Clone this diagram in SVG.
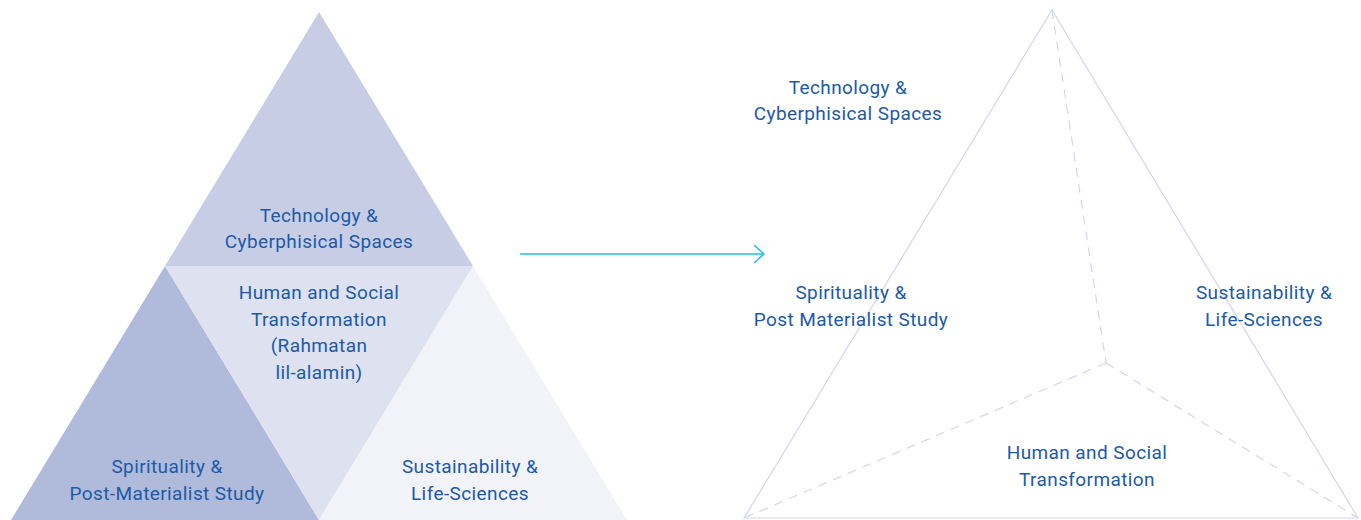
<svg xmlns="http://www.w3.org/2000/svg" width="1361" height="520" viewBox="0 0 1361 520">
<defs>
<style>
text{font-family:Roboto,"Liberation Sans",sans-serif;font-size:19px;letter-spacing:0.4px;fill:#1c5aa6;text-anchor:middle}
.edge{fill:none;stroke:#d3d6ec;stroke-width:1.2}
.dash{fill:none;stroke:#d3d6ec;stroke-width:1.2;stroke-dasharray:9 7}
</style>
<marker id="chev" viewBox="0 0 12 20" refX="11" refY="10" markerWidth="12" markerHeight="20" markerUnits="userSpaceOnUse" orient="auto">
<path d="M1 1 L11 10 L1 19" fill="none" stroke="#1ebff0" stroke-width="1.5"/>
</marker>
</defs>
<rect width="1361" height="520" fill="#ffffff"/>
<g id="left-pyramid">
<g id="tech"><polygon points="319,12 473,266 165,266" fill="#c8cde6"/>
<text x="319" y="222">Technology &amp;</text><text x="319" y="248">Cyberphisical Spaces</text></g>
<g id="spirit"><polygon points="165,266 319,520 11,520" fill="#b0badb"/>
<text x="167" y="473">Spirituality &amp;</text><text x="167" y="500">Post-Materialist Study</text></g>
<g id="human"><polygon points="165,266 473,266 319,520" fill="#dde1f0"/>
<text x="319" y="299">Human and Social</text><text x="319" y="326">Transformation</text><text x="319" y="352">(Rahmatan</text><text x="319" y="379">lil-alamin)</text></g>
<g id="sustain"><polygon points="473,266 627,520 319,520" fill="#f2f3f9"/>
<text x="470" y="473">Sustainability &amp;</text><text x="470" y="500">Life-Sciences</text></g>
</g>
<g id="connectors">
<line x1="520" y1="254" x2="764" y2="254" stroke="#1ebff0" stroke-width="1.5" marker-end="url(#chev)"/>
</g>
<g id="right-tetra">
<polygon class="edge" points="1052,10 1358,518 744,518"/>
<polyline class="dash" points="1052,10 1106,363"/>
<polyline class="dash" points="1106,363 744,518"/>
<polyline class="dash" points="1106,363 1358,518"/>
<g id="r-tech"><text x="848" y="94">Technology &amp;</text><text x="848" y="120">Cyberphisical Spaces</text></g>
<g id="r-spirit"><text x="851" y="299">Spirituality &amp;</text><text x="851" y="326">Post Materialist Study</text></g>
<g id="r-sustain"><text x="1264" y="299">Sustainability &amp;</text><text x="1264" y="326">Life-Sciences</text></g>
<g id="r-human"><text x="1087" y="459">Human and Social</text><text x="1087" y="486">Transformation</text></g>
</g>
</svg>
